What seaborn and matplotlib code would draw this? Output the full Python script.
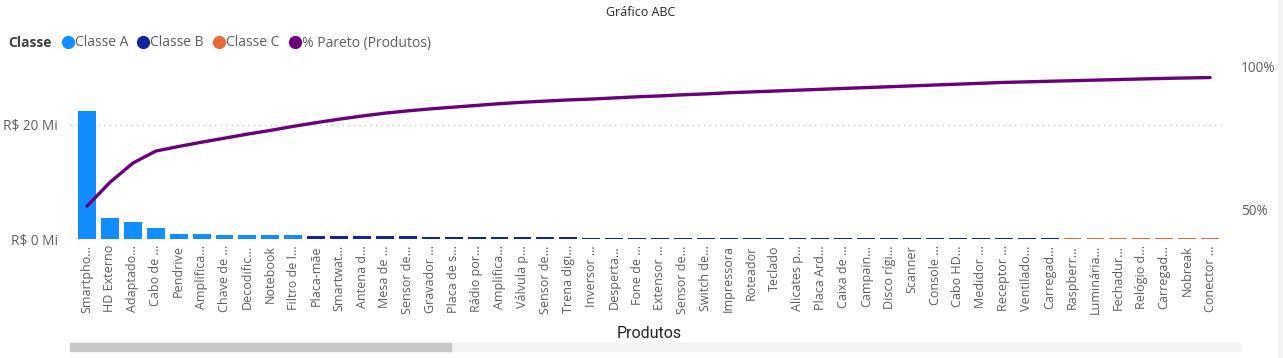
import numpy as np
import pandas as pd
import seaborn as sns
import matplotlib.pyplot as plt
from matplotlib.lines import Line2D
from matplotlib.patches import Rectangle

produtos = ['Smartpho...', 'HD Externo', 'Adaptado...', 'Cabo de ...', 'Pendrive',
            'Amplifica...', 'Chave de ...', 'Decodific...', 'Notebook', 'Filtro de l...',
            'Placa-mãe', 'Smartwat...', 'Antena d...', 'Mesa de ...', 'Sensor de...',
            'Gravador ...', 'Placa de s...', 'Rádio por...', 'Amplifica...', 'Válvula p...',
            'Sensor de...', 'Trena digi...', 'Inversor ...', 'Desperta...', 'Fone de ...',
            'Extensor ...', 'Sensor de...', 'Switch de...', 'Impressora', 'Roteador',
            'Teclado', 'Alicates p...', 'Placa Ard...', 'Caixa de ...', 'Campain...',
            'Disco rígi...', 'Scanner', 'Console ...', 'Cabo HD...', 'Medidor ...',
            'Receptor ...', 'Ventilado...', 'Carregad...', 'Raspberr...', 'Luminária...',
            'Fechadur...', 'Relógio d...', 'Carregad...', 'Nobreak', 'Conector ...']

# faturamento em R$ milhões
vendas_mi = [22.5, 3.7, 3.0, 1.95, 0.85, 0.80, 0.77, 0.74, 0.70, 0.67,
             0.58, 0.55, 0.52, 0.47, 0.44, 0.41, 0.37, 0.35, 0.33, 0.31,
             0.28, 0.27, 0.26, 0.25, 0.24, 0.23, 0.22, 0.21, 0.20, 0.19,
             0.18, 0.18, 0.17, 0.17, 0.16, 0.16, 0.15, 0.15, 0.14, 0.14,
             0.14, 0.13, 0.13, 0.12, 0.12, 0.11, 0.11, 0.10, 0.10, 0.09]

classes = ['Classe A'] * 10 + ['Classe B'] * 33 + ['Classe C'] * 7

# % Pareto acumulado
pareto_pct = [51.2, 59.5, 66.2, 70.4, 72.0, 73.5, 74.9, 76.3, 77.6, 79.0,
              80.3, 81.5, 82.6, 83.6, 84.4, 85.1, 85.7, 86.3, 86.9, 87.4,
              87.8, 88.2, 88.5, 88.9, 89.3, 89.6, 90.0, 90.3, 90.7, 91.0,
              91.3, 91.6, 91.9, 92.2, 92.5, 92.8, 93.1, 93.4, 93.7, 94.0,
              94.3, 94.5, 94.7, 94.9, 95.1, 95.3, 95.5, 95.7, 95.85, 96.0]

cores = {'Classe A': '#118DFF', 'Classe B': '#12239E', 'Classe C': '#E66C37'}
cor_pareto = '#6B007B'

df = pd.DataFrame({'pos': np.arange(len(produtos)), 'vendas': vendas_mi,
                   'classe': classes, 'pareto': np.array(pareto_pct) / 100})

sns.set_theme(style='white')
plt.rcParams['font.family'] = ['Open Sans', 'DejaVu Sans']

W, H = 1283, 358
fig = plt.figure(figsize=(W / 100, H / 100), dpi=100)
ax = fig.add_axes([70 / W, 1 - 239 / H, 1152 / W, 181 / H])

sns.barplot(data=df, x='pos', y='vendas', hue='classe', palette=cores, dodge=False,
            width=0.78, saturation=1, linewidth=0, legend=False, ax=ax)
ax.set_xlim(-0.74, 49.52)
ax.set_ylim(0, 31.7)
ax.set_yticks([0, 20])
ax.set_yticklabels(['R$ 0 Mi', 'R$ 20 Mi'])
ax.set_xticks(df['pos'])
ax.set_xticklabels(produtos, rotation=90, fontsize=9, color='#605E5C')
ax.tick_params(axis='y', labelsize=9.8, labelcolor='#605E5C', length=0, pad=8.5)
ax.tick_params(axis='x', length=0, pad=4.5)
ax.yaxis.grid(True, color='#C8C8C8', linestyle=(0, (1, 3)), linewidth=1)
ax.set_axisbelow(True)
ax.set_xlabel('')
ax.set_ylabel('')
for s in ax.spines.values():
    s.set_visible(False)

ax2 = ax.twinx()
sns.lineplot(data=df, x='pos', y='pareto', color=cor_pareto, linewidth=2.4, ax=ax2)
ax2.set_ylim(0.398, 1.028)
ax2.set_yticks([0.5, 1.0])
ax2.set_yticklabels(['50%', '100%'])
ax2.tick_params(axis='y', labelsize=9.8, labelcolor='#605E5C', length=0, pad=13.5)
ax2.set_ylabel('')
ax2.set_xlabel('')
for s in ax2.spines.values():
    s.set_visible(False)

fig.text(641 / W, 1 - 12 / H, 'Gráfico ABC', ha='center', va='center',
         fontsize=9, color='#252423')

fig.text(8 / W, 1 - 43 / H, 'Classe', ha='left', va='center', fontsize=10,
         fontweight='bold', color='#404040')
handles = [Line2D([], [], marker='o', linestyle='', markersize=8.5, color=c)
           for c in [cores['Classe A'], cores['Classe B'], cores['Classe C'], cor_pareto]]
fig.legend(handles, ['Classe A', 'Classe B', 'Classe C', '% Pareto (Produtos)'],
           loc='center left', bbox_to_anchor=(54 / W, 1 - 43 / H), ncol=4, frameon=False,
           handletextpad=-0.1, columnspacing=0.5, handlelength=1.2, fontsize=10,
           labelcolor='#605E5C', borderaxespad=0)

fig.text(649 / W, 1 - 333 / H, 'Produtos', ha='center', va='center',
         fontsize=11.5, color='#252423', family=['Roboto', 'DejaVu Sans'])

fig.patches.append(Rectangle((70 / W, 1 - 351 / H), 1170 / W, 8 / H,
                             transform=fig.transFigure, color='#F3F3F3', zorder=0))
fig.patches.append(Rectangle((70 / W, 1 - 351 / H), 381 / W, 8 / H,
                             transform=fig.transFigure, color='#C8C8C8', zorder=1))
fig.patches.append(Rectangle((1278 / W, 0), 5 / W, 1, transform=fig.transFigure,
                             color='#F3F3F3', zorder=0))

fig.savefig('out.png', dpi=100)
